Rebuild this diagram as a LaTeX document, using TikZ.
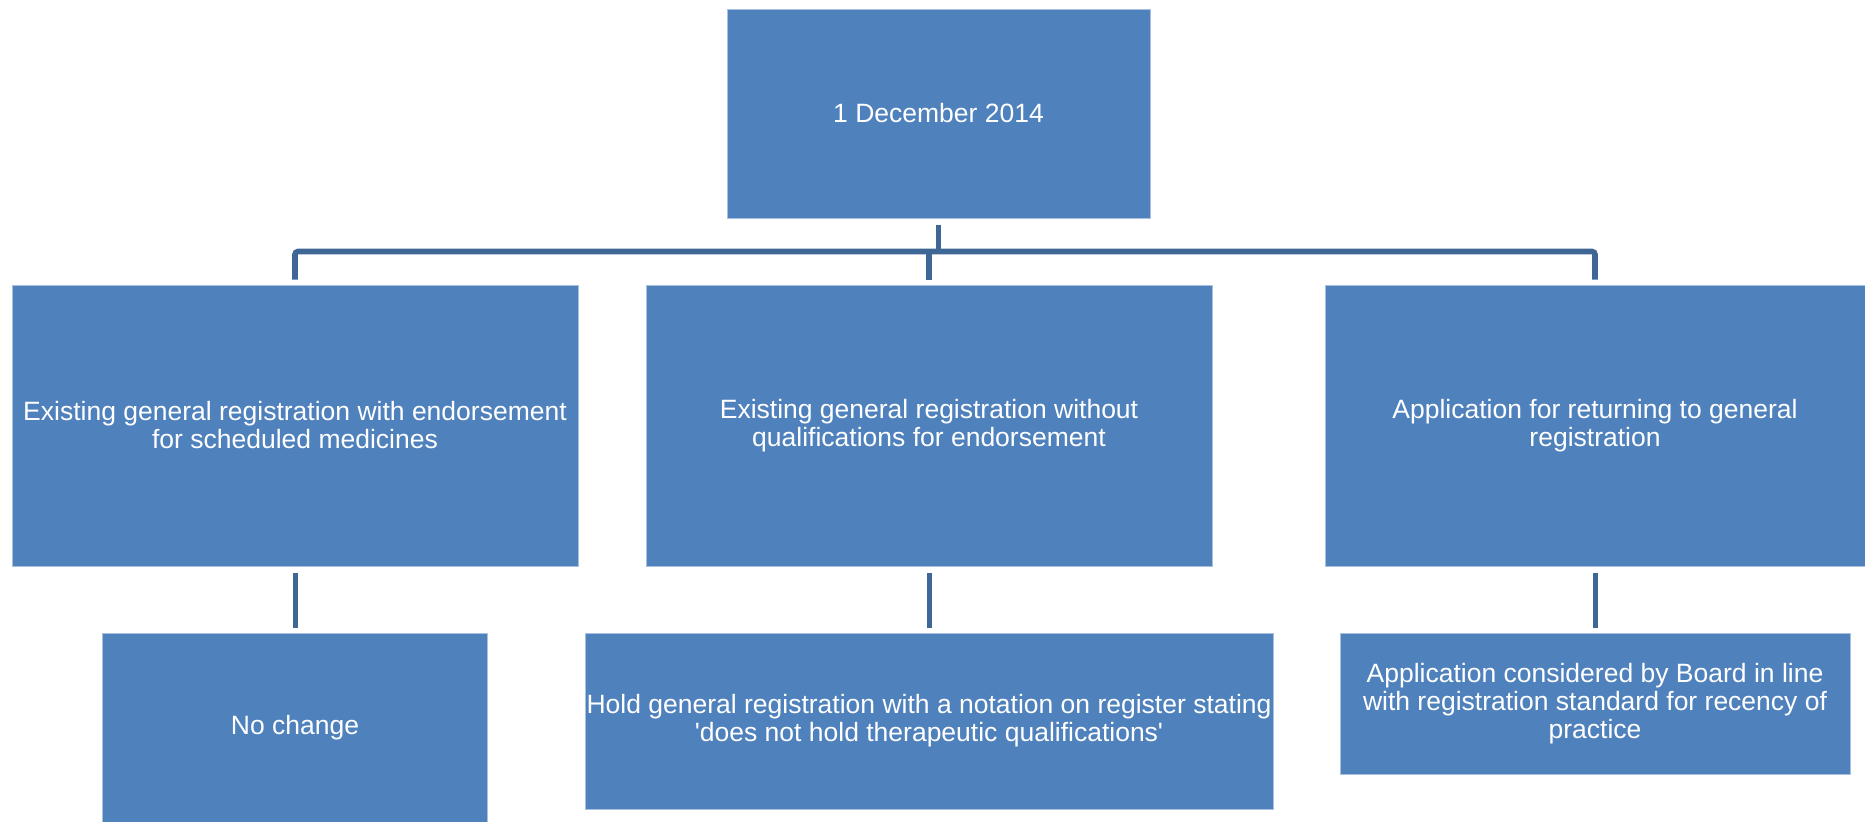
\documentclass[tikz,border=0pt]{standalone}
\usepackage{fontspec}
\setmainfont{Liberation Sans}
\usepackage{tikz}
\usetikzlibrary{positioning}

\definecolor{boxblue}{HTML}{4F81BD}
\definecolor{boxedge}{HTML}{A9C0DE}
\definecolor{linkblue}{HTML}{3F6796}

\tikzset{
  orgbox/.style={rectangle, fill=boxblue, draw=boxedge, line width=0.5pt, inner sep=0pt,
    text=white, align=center, font=\fontsize{13.25}{14}\selectfont},
  buslink/.style={draw=linkblue, line width=2.8pt},
  stemlink/.style={draw=linkblue, line width=2.5pt, shorten <=3pt, shorten >=2.5pt},
}

\begin{document}
\begin{tikzpicture}[x=0.5pt,y=0.5pt,yscale=-1]
\useasboundingbox (0,0) rectangle (1865,821);

% Top box
\node[orgbox, minimum width=211.5pt, minimum height=104.5pt] (dec) at (938.5,113.5) {1 December 2014};

% Middle row
\node[orgbox, minimum width=283pt, minimum height=140.5pt] (endorsed) at (295,425.5)
  {Existing general registration with endorsement\\for scheduled medicines};
\node[orgbox, minimum width=283pt, minimum height=140.5pt] (noqual) at (929,425.5)
  {Existing general registration without\\qualifications for endorsement};
\node[orgbox, minimum width=270pt, minimum height=140.5pt] (returning) at (1595,425.5)
  {Application for returning to general\\registration};

% Bottom row
\node[orgbox, minimum width=192.5pt, minimum height=95pt] (nochange) at (295,728) {No change};
\node[orgbox, minimum width=344pt, minimum height=88pt] (notation) at (929,721)
  {Hold general registration with a notation on register stating\\\textquotesingle does not hold therapeutic qualifications\textquotesingle};
\node[orgbox, minimum width=255pt, minimum height=70.5pt] (recency) at (1595,703.5)
  {Application considered by Board in line\\with registration standard for recency of\\practice};

% Bus
\coordinate (bus) at (0,251.5);
\draw[buslink, shorten <=3pt] (dec.south) -- (dec.south |- bus);
\draw[buslink, rounded corners=1.5pt, shorten <=2.5pt, shorten >=2.5pt]
  (endorsed.north) -- (endorsed.north |- bus) -- (returning.north |- bus) -- (returning.north);
\draw[buslink, shorten >=2.5pt] (noqual.north |- bus) -- (noqual.north);

% Stems
\draw[stemlink] (endorsed.south) -- (nochange.north);
\draw[stemlink] (noqual.south) -- (notation.north);
\draw[stemlink] (returning.south) -- (recency.north);

\end{tikzpicture}
\end{document}
